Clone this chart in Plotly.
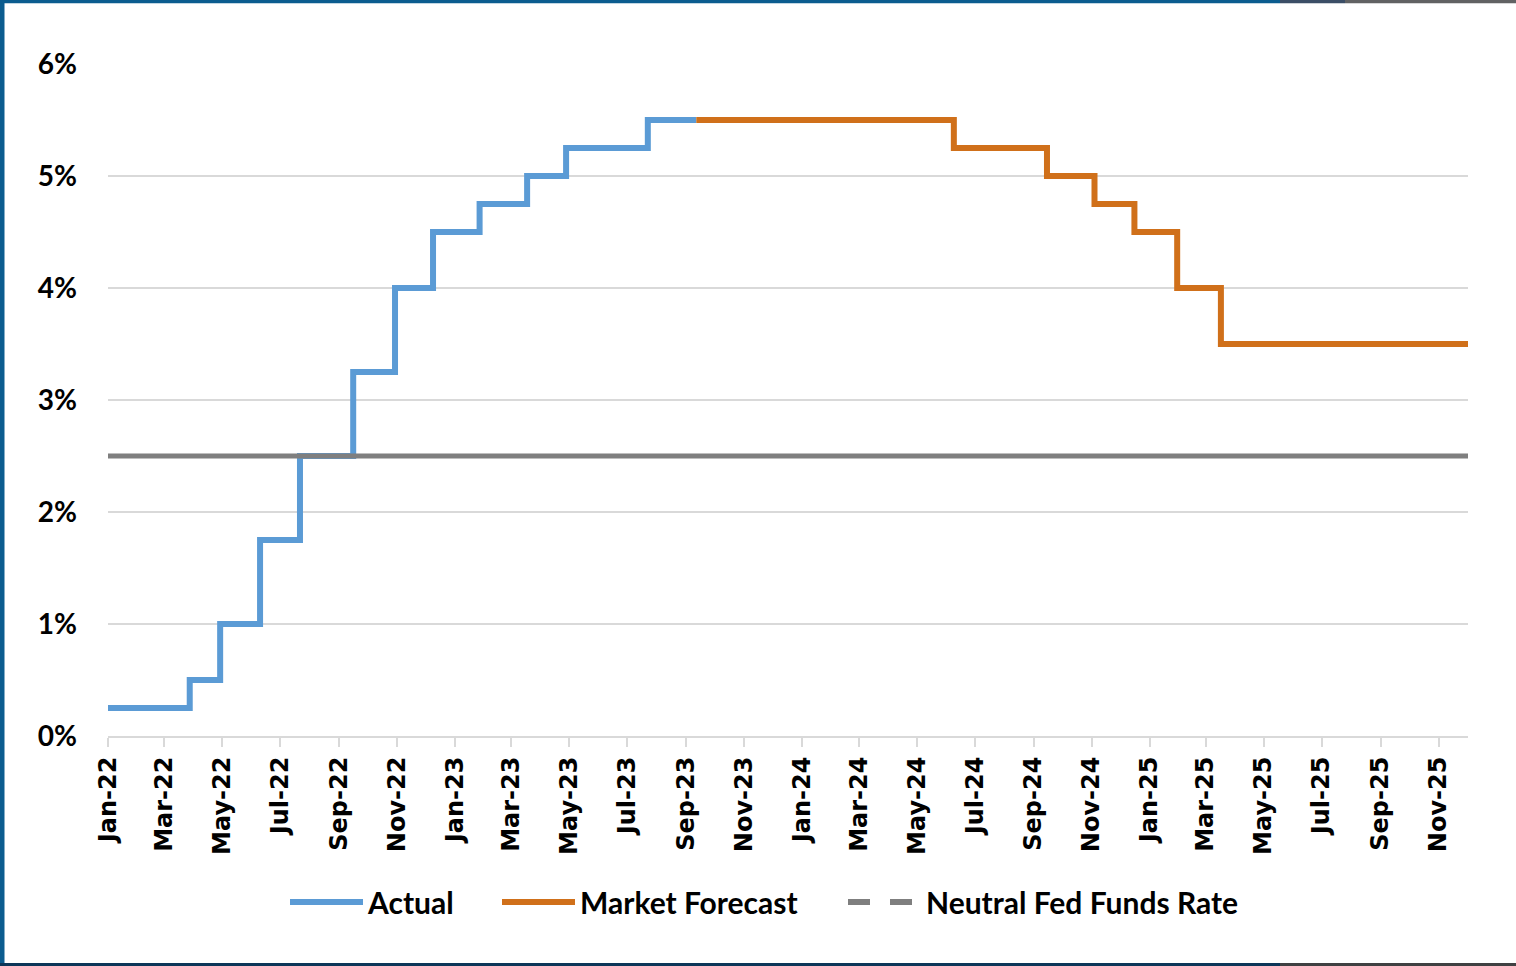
import plotly.graph_objects as go

# ---------------- data ----------------
actual_dates = ["2022-01-01", "2022-03-28", "2022-04-29", "2022-06-10", "2022-07-22",
                "2022-09-16", "2022-10-30", "2022-12-09", "2023-01-27", "2023-03-18",
                "2023-04-28", "2023-07-23", "2023-09-12"]
actual_rates = [0.25, 0.5, 1.0, 1.75, 2.5, 3.25, 4.0, 4.5, 4.75, 5.0, 5.25, 5.5, 5.5]

forecast_dates = ["2023-09-12", "2024-06-09", "2024-09-15", "2024-11-04", "2024-12-16",
                  "2025-01-30", "2025-03-17", "2025-12-02"]
forecast_rates = [5.5, 5.25, 5.0, 4.75, 4.5, 4.0, 3.5, 3.5]

neutral_dates = ["2022-01-01", "2025-12-02"]
neutral_rates = [2.5, 2.5]

y_ticks = [0, 1, 2, 3, 4, 5, 6]
y_tick_labels = [f"{v}%" for v in y_ticks]
x_range = ["2022-01-01", "2025-12-02"]

# ---------------- layout constants ----------------
W, H = 1516, 966
ML, MR, MT, MB = 108, 48, 64, 230
PW, PH = W - ML - MR, H - MT - MB

def px_x(p):
    return (p - ML) / PW

def px_y(p):
    return (H - MB - p) / PH

BLUE = "#5B9BD5"
ORANGE = "#D0701A"
GRAY = "#7F7F7F"
GRID = "#D9D9D9"
LEG_OFF = 5  # approx px between legend box edge and start of symbol

fig = go.Figure()
fig.add_trace(go.Scatter(x=actual_dates, y=actual_rates, mode="lines", name="Actual",
                         line=dict(color=BLUE, width=6, shape="hv"), legend="legend"))
fig.add_trace(go.Scatter(x=forecast_dates, y=forecast_rates, mode="lines", name="Market Forecast",
                         line=dict(color=ORANGE, width=6, shape="hv"), legend="legend2"))
fig.add_trace(go.Scatter(x=neutral_dates, y=neutral_rates, mode="lines", showlegend=False,
                         line=dict(color=GRAY, width=5)))
# legend-only entry for the neutral rate (dashed symbol as in reference)
fig.add_trace(go.Scatter(x=[None], y=[None], mode="lines", name="Neutral Fed Funds Rate",
                         line=dict(color=GRAY, width=6, dash="22px,20px"), legend="legend3"))

shapes = []
# frame: left blue, top blue->gray, bottom navy->gray
shapes.append(dict(type="rect", xref="paper", yref="paper", x0=px_x(0), x1=px_x(4.5),
                   y0=px_y(H), y1=px_y(0), fillcolor="#0B5C8F", line_width=0, layer="above"))
shapes.append(dict(type="rect", xref="paper", yref="paper", x0=px_x(0), x1=px_x(1280),
                   y0=px_y(3.3), y1=px_y(0), fillcolor="#0B5C8F", line_width=0, layer="above"))
shapes.append(dict(type="rect", xref="paper", yref="paper", x0=px_x(1280), x1=px_x(1345),
                   y0=px_y(3.3), y1=px_y(0), fillcolor="#3B4E66", line_width=0, layer="above"))
shapes.append(dict(type="rect", xref="paper", yref="paper", x0=px_x(1345), x1=px_x(W),
                   y0=px_y(3.3), y1=px_y(0), fillcolor="#616263", line_width=0, layer="above"))
shapes.append(dict(type="rect", xref="paper", yref="paper", x0=px_x(0), x1=px_x(1280),
                   y0=px_y(H), y1=px_y(H - 3), fillcolor="#0C3658", line_width=0, layer="above"))
shapes.append(dict(type="rect", xref="paper", yref="paper", x0=px_x(1280), x1=px_x(W),
                   y0=px_y(H), y1=px_y(H - 3), fillcolor="#3F4042", line_width=0, layer="above"))

leg_font = dict(family="Lato", size=30, color="black", weight=700)

def leg(x_px):
    return dict(orientation="h", x=px_x(x_px - LEG_OFF), xanchor="left", y=px_y(902),
                yanchor="middle", font=leg_font, itemwidth=73, bgcolor="rgba(0,0,0,0)")

fig.update_layout(
    template="none",
    width=W, height=H,
    margin=dict(l=ML, r=MR, t=MT, b=MB, pad=0),
    paper_bgcolor="white", plot_bgcolor="white",
    showlegend=True,
    legend=leg(290),
    legend2=leg(502),
    legend3=leg(848),
    shapes=shapes,
    xaxis=dict(type="date", range=x_range, tick0="2022-01-01", dtick="M2", tickformat="%b-%y",
               tickangle=-90, showgrid=False, showline=True, linecolor=GRID, linewidth=2,
               ticks="outside", ticklen=9, tickwidth=2, tickcolor=GRID,
               tickfont=dict(family="DejaVu Sans", size=24, color="black", weight=700),
               automargin=False, zeroline=False),
    yaxis=dict(range=[0, 6], tickvals=y_ticks, ticktext=y_tick_labels, showgrid=True,
               gridcolor=GRID, gridwidth=2, showline=False, ticks="", zeroline=False,
               tickfont=dict(family="Lato", size=28, color="black", weight=700),
               ticklabelstandoff=30, automargin=False),
)

fig.write_html("out.html")
